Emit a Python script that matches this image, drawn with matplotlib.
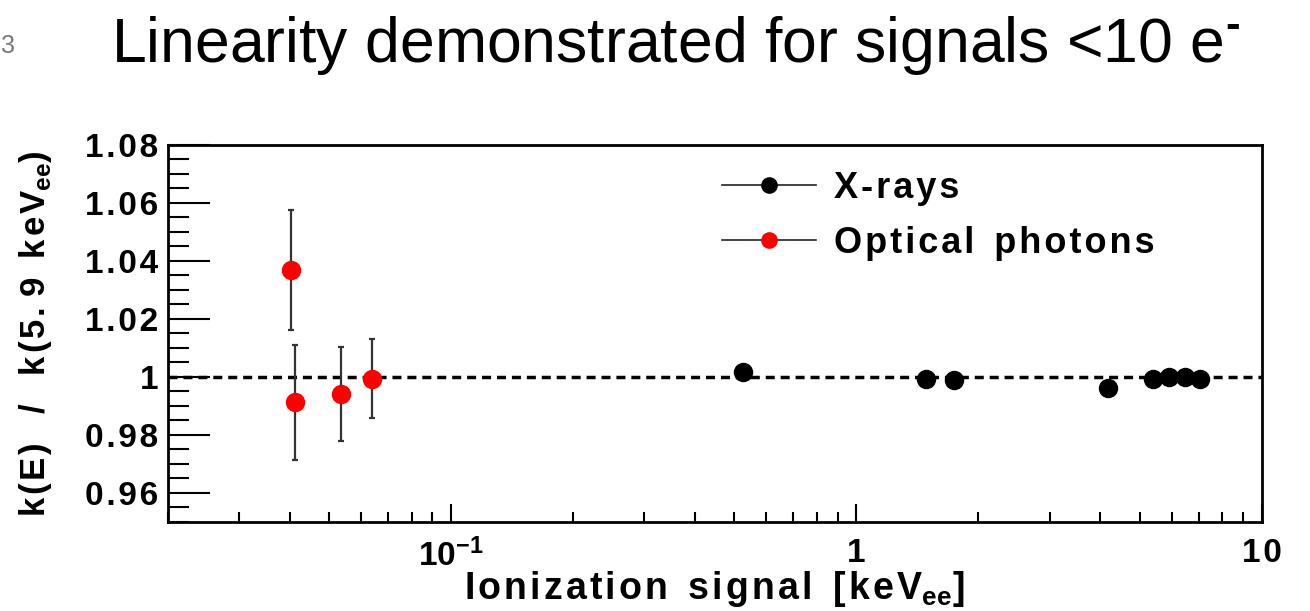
import numpy as np
import matplotlib.pyplot as plt
from matplotlib.ticker import FixedLocator, FuncFormatter, MultipleLocator, LogLocator

plt.rcParams["font.family"] = ["Liberation Sans", "DejaVu Sans"]
plt.rcParams["mathtext.fontset"] = "custom"
plt.rcParams["mathtext.rm"] = "Liberation Sans:bold"
plt.rcParams["mathtext.bf"] = "Liberation Sans:bold"

# X-ray lines (keV_ee) and relative k
xray_e = [0.525, 1.49, 1.74, 4.17, 5.4, 5.9, 6.47, 7.05]
xray_k = [1.0016, 0.9991, 0.9990, 0.9963, 0.9994, 1.0, 1.0, 0.9991]

# optical photon points with error bars
opt_e = [0.0403, 0.0412, 0.0536, 0.064]
opt_k = [1.0367, 0.9912, 0.9941, 0.9993]
opt_lo = [1.0163, 0.9714, 0.9780, 0.9858]
opt_hi = [1.0575, 1.0111, 1.0104, 1.0129]

HS = "\u200a"


def spaced(s):
    # ROOT-like loose letter spacing
    return HS.join(s)


fig = plt.figure(figsize=(13.1, 6.11), dpi=100)
ax = fig.add_axes([0.128, 0.146, 0.835, 0.617])

ax.axhline(1.0, color="black", lw=2.5, ls=(0, (2.6, 1.7)), zorder=1)

yerr = [np.array(opt_k) - np.array(opt_lo), np.array(opt_hi) - np.array(opt_k)]
ax.errorbar(opt_e, opt_k, yerr=yerr, fmt="none", ecolor="#333333", elinewidth=1.6,
            capsize=2.5, capthick=1.6, zorder=2)
ax.plot(opt_e, opt_k, "o", color="#ff0000", ms=14, mec="none", zorder=3)
ax.plot(xray_e, xray_k, "o", color="black", ms=14, mec="none", zorder=3)

# legend handles
hx, = ax.plot([], [], "-o", color="#222222", lw=1.2, ms=12, mfc="black", mec="none")
ho, = ax.plot([], [], "-o", color="#222222", lw=1.2, ms=12, mfc="#ff0000", mec="none")
ax.legend([hx, ho], [spaced("X-rays"), spaced("Optical") + "  " + spaced("photons")],
          loc="upper left", bbox_to_anchor=(0.507, 0.931), borderaxespad=0, borderpad=0,
          frameon=False, handlelength=2.6, handletextpad=0.5, labelspacing=0.56,
          prop={"weight": "bold", "size": 26})

ax.set_xscale("log")
ax.set_xlim(0.02, 10)
ax.set_ylim(0.95, 1.08)

ax.xaxis.set_major_locator(FixedLocator([0.1, 1, 10]))
ax.xaxis.set_major_formatter(FuncFormatter(
    lambda v, p: {0.1: r"$\mathbf{10^{-1}}$", 1: "1", 10: spaced("10")}.get(round(v, 3), "")))
ax.xaxis.set_minor_locator(LogLocator(base=10, subs=np.arange(2, 10), numticks=20))
ax.xaxis.set_minor_formatter(FuncFormatter(lambda v, p: ""))

ax.yaxis.set_major_locator(MultipleLocator(0.02))
ax.yaxis.set_minor_locator(MultipleLocator(0.005))
ax.yaxis.set_major_formatter(FuncFormatter(lambda v, p: spaced("%g" % round(v, 2))))

ax.tick_params(axis="y", which="major", direction="in", length=30, width=1.5, labelsize=24, pad=7)
ax.tick_params(axis="y", which="minor", direction="in", length=15, width=1.5)
ax.tick_params(axis="x", which="major", direction="in", length=13, width=1.5, labelsize=24, pad=12)
ax.tick_params(axis="x", which="minor", direction="in", length=7, width=1.5)
ax.tick_params(top=False, right=False, which="both")
for lab in ax.get_xticklabels() + ax.get_yticklabels():
    lab.set_fontweight("bold")
for s in ax.spines.values():
    s.set_linewidth(2)

ax.set_xlabel(spaced("Ionization") + "  " + spaced("signal") + "  " + spaced("[keV")
              + r"$_{\mathbf{ee}}$]", fontsize=27, fontweight="bold")
ax.xaxis.set_label_coords(0.5, -0.125)
ax.set_ylabel(spaced("k(E)") + "   /   " + spaced("k(5.") + " " + spaced("9") + "  "
              + spaced("keV") + r"$_{\mathbf{ee}}$)", fontsize=25, fontweight="bold")
ax.yaxis.set_label_coords(-0.104, 0.5)

fig.text(0.516, 0.898, r"Linearity demonstrated for signals <10 e$^{\text{-}}$",
         fontsize=45, ha="center", va="baseline")
fig.text(0.001, 0.925, "3", fontsize=18, color="#777777", ha="left", va="center")

fig.savefig("out.png", dpi=100)
